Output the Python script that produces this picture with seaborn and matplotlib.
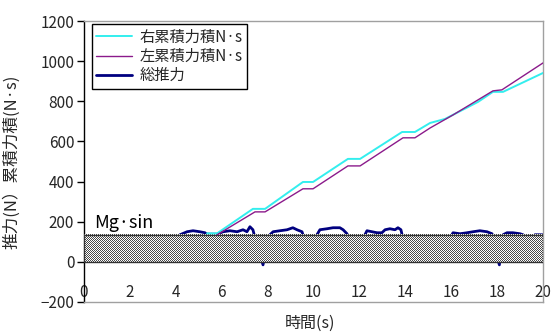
import numpy as np
import pandas as pd
import matplotlib
matplotlib.use("Agg")
import matplotlib.pyplot as plt
import seaborn as sns

# ---- data ----
right_t = [5.36, 5.80, 7.36, 7.89, 9.54, 9.98, 11.50, 12.03, 13.86, 14.42, 15.08, 15.73, 17.17, 17.82, 18.26, 20.0]
right_v = [142, 142, 264, 264, 398, 398, 513, 513, 647, 647, 692, 712, 797, 847, 847, 941]

left_t = [5.80, 7.45, 7.89, 9.54, 9.98, 11.50, 12.03, 13.90, 14.42, 15.08, 16.08, 17.82, 18.21, 20.0]
left_v = [135, 249, 249, 364, 364, 478, 478, 618, 618, 667, 732, 852, 857, 991]

thrust_t = [0.0, 4.10, 4.18, 4.49, 4.75, 5.05, 5.27, 5.36, 5.80, 6.06, 6.36, 6.67, 6.93, 7.10, 7.23, 7.36, 7.45,
            7.80, 8.05, 8.10, 8.24, 8.54, 8.85, 9.10, 9.28, 9.50, 9.54, 9.70, 10.10, 10.15, 10.28, 10.59, 10.85,
            11.15, 11.29, 11.46, 11.60, 12.15, 12.24, 12.33, 12.55, 12.77, 12.98, 13.12, 13.33, 13.55, 13.68,
            13.81, 13.86, 14.00, 15.95, 16.03, 16.08, 16.38, 16.69, 16.95, 17.25, 17.56, 17.78, 17.90, 18.10,
            18.20, 18.26, 18.43, 18.69, 19.00, 19.13, 19.30, 19.60, 19.65, 19.95, 20.0, 20.0]
thrust_v = [60, 60, 135, 150, 155, 150, 145, 138, 138, 150, 155, 150, 160, 150, 175, 160, 120,
            -15, 120, 135, 150, 155, 160, 170, 160, 150, 135, 60, 120, 135, 160, 165, 170,
            170, 160, 140, 60, 120, 135, 155, 150, 145, 145, 160, 165, 160, 170,
            160, 135, 60, 120, 135, 145, 140, 145, 150, 155, 150, 140, 60, -15,
            120, 135, 145, 145, 140, 135, 60, 120, 135, 135, 135, 0]

mg_sin = 135
x_ticks = [0, 2, 4, 6, 8, 10, 12, 14, 16, 18, 20]
y_ticks = [-200, 0, 200, 400, 600, 800, 1000, 1200]

sns.set_theme(style="white")
plt.rcParams['font.family'] = ['Noto Sans CJK JP', 'DejaVu Sans']

fig = plt.figure(figsize=(5.52, 3.33), dpi=100)
ax = fig.add_axes([84/552, 1-302/333, 459/552, 281/333])

df_r = pd.DataFrame({"t": right_t, "v": right_v})
df_l = pd.DataFrame({"t": left_t, "v": left_v})
df_th = pd.DataFrame({"t": thrust_t, "v": thrust_v})

sns.lineplot(data=df_r, x="t", y="v", ax=ax, color="#33eeee", lw=1.4, label="右累積力積N·s",
             sort=False, estimator=None, zorder=4)
sns.lineplot(data=df_l, x="t", y="v", ax=ax, color="#8b1a8b", lw=1.0, label="左累積力積N·s",
             sort=False, estimator=None, zorder=4)
sns.lineplot(data=df_th, x="t", y="v", ax=ax, color="#000080", lw=2.0, label="総推力",
             sort=False, estimator=None, zorder=2)

# Mg·sin hatched band (checker pattern)
ny, nx = 28, 459
chk = (np.indices((ny, nx)).sum(axis=0) % 2).astype(float)
ax.imshow(chk, cmap="gray", vmin=-0.4, vmax=1.0, extent=[0, 20, 0, mg_sin], aspect="auto",
          interpolation="nearest", zorder=3)
ax.add_patch(plt.Rectangle((0, 0), 20, mg_sin, fill=False, edgecolor="#333333", lw=1.0, zorder=3.5))
ax.text(0.44, 195, "Mg·sin", fontsize=13, va="center", ha="left", color="black")

ax.set_xlim(0, 20)
ax.set_ylim(-200, 1200)
ax.set_xticks(x_ticks)
ax.set_yticks(y_ticks)
ax.set_yticklabels(["−200" if v < 0 else str(v) for v in y_ticks])
ax.tick_params(axis="y", length=5, width=1, color="black", direction="out", labelsize=11, pad=2, left=True)
ax.tick_params(axis="x", length=0, labelsize=11, pad=-13)
for lab in ax.get_xticklabels():
    lab.set_zorder(6)

for s in ["top", "right", "bottom"]:
    ax.spines[s].set_color("#a0a0a0")
    ax.spines[s].set_linewidth(1.0)
ax.spines["left"].set_color("black")
ax.spines["left"].set_linewidth(1.0)

ax.set_xlabel("時間(s)", fontsize=11.5)
ax.xaxis.set_label_coords(0.492, -0.045)
ax.set_ylabel("推力(N）累積力積(N·s)", fontsize=12)
ax.yaxis.set_label_coords(-0.139, 0.5)

leg = ax.legend(loc="upper left", bbox_to_anchor=(0.017, 0.989), fontsize=11, frameon=True,
                fancybox=False, edgecolor="black", framealpha=1, handlelength=2.3,
                borderpad=0.3, labelspacing=0.15, handletextpad=0.5, borderaxespad=0)
leg.get_frame().set_linewidth(1.0)

fig.savefig("out.png", dpi=100)
